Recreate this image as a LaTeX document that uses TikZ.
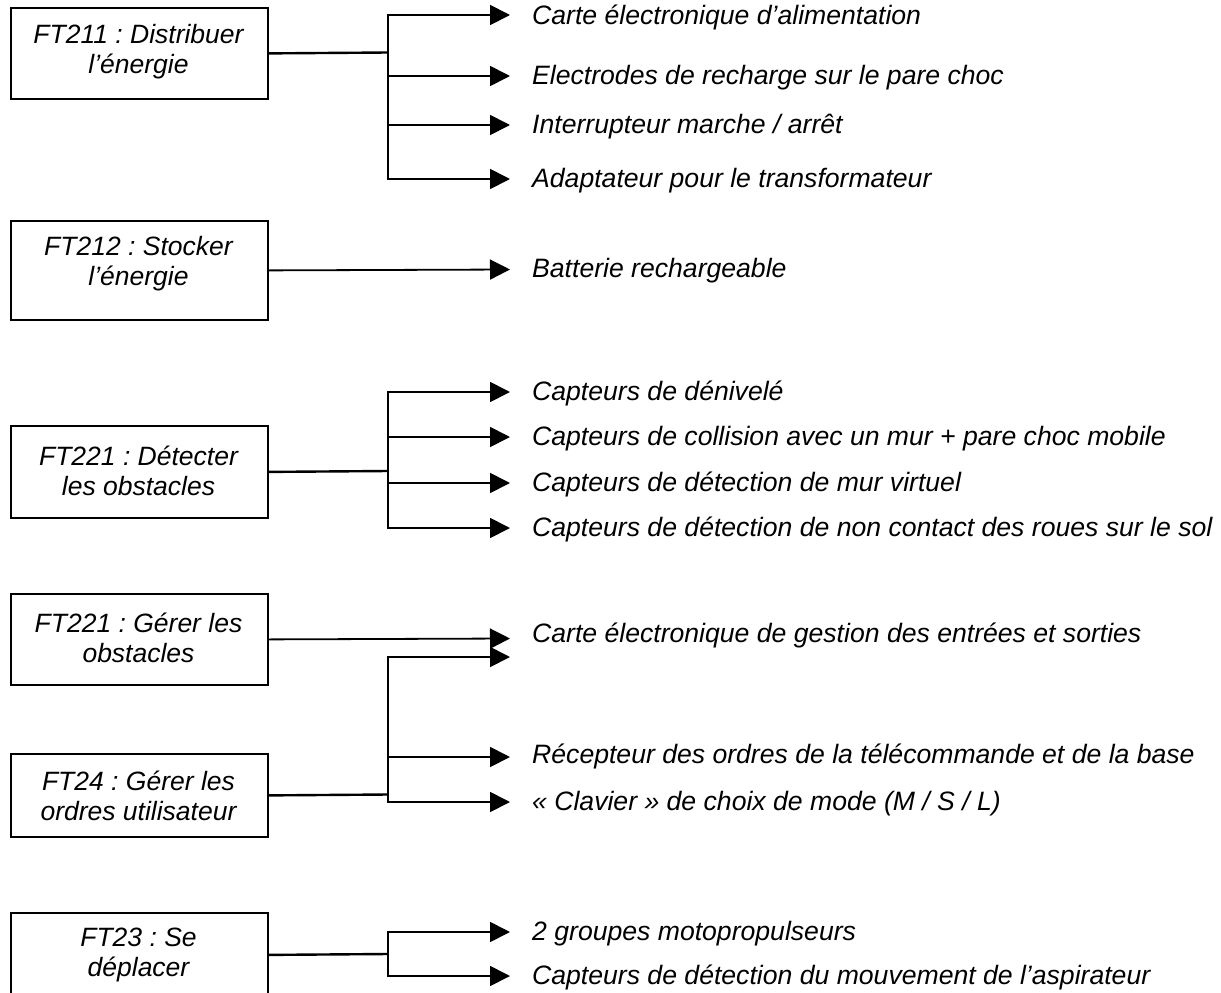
\documentclass[tikz,border=0pt]{standalone}
\usepackage{fontspec}
\setmainfont{Liberation Sans}
\usetikzlibrary{arrows.meta}
\frenchspacing
\begin{document}
\begin{tikzpicture}[x=1pt,y=-1pt,
  box/.style={draw=black, line width=1.8pt, minimum width=257pt, inner sep=0pt, anchor=north west},
  boxtext/.style={align=center, font=\fontsize{26.5}{30}\selectfont\itshape, inner sep=0pt},
  lab/.style={anchor=base west, font=\fontsize{26.6}{30}\selectfont\itshape, inner sep=0pt},
  trunk/.style={line width=2.4pt},
  arr/.style={line width=1.8pt, -{Triangle[length=20pt,width=20pt]}}]
\useasboundingbox (0,0) rectangle (1221,993);
\clip (0,0) rectangle (1221,993);
\fill[white] (0,0) rectangle (1221,993);

% boxes
\node[box, minimum height=91pt] (b1) at (10,7) {};
\node[box, minimum height=99pt] (b2) at (10,220) {};
\node[box, minimum height=92pt] (b3) at (10,425) {};
\node[box, minimum height=91pt] (b4) at (10,593) {};
\node[box, minimum height=83pt] (b5) at (10,753) {};
\node[box, minimum height=84pt] (b6) at (10,912) {};

% box texts
\node[boxtext] (t1) at (138.5,52) {FT211 : Distribuer\\l’énergie};
\node[boxtext] (t2) at (138.5,264) {FT212 : Stocker\\l’énergie};
\node[boxtext] (t3) at (138.5,471) {FT221 : Détecter\\les obstacles};
\node[boxtext] (t4) at (138.5,638) {FT221 : Gérer les\\obstacles};
\node[boxtext] (t5) at (138.5,796) {FT24 : Gérer les\\ordres utilisateur};
\node[boxtext] (t6) at (138.5,955) {FT23 : Se\\déplacer};

% junctions (level with box centres)
\coordinate (j1) at (388,52.5);
\coordinate (j3) at (388,471);
\coordinate (j5) at (388,794.5);
\coordinate (j6) at (388,954);

% arrow tips
\coordinate (a1) at (510,15);
\coordinate (a2) at (510,76);
\coordinate (a3) at (510,125);
\coordinate (a4) at (510,179);
\coordinate (a5) at (510,269.5);
\coordinate (a6) at (510,392);
\coordinate (a7) at (510,437);
\coordinate (a8) at (510,483);
\coordinate (a9) at (510,528);
\coordinate (a10) at (510,638.5);
\coordinate (a11) at (510,657);
\coordinate (a12) at (510,757);
\coordinate (a13) at (510,802);
\coordinate (a14) at (510,932);
\coordinate (a15) at (510,976);

% labels
\node[lab] (l1) at (532,24) {Carte électronique d’alimentation};
\node[lab] (l2) at (532,84) {Electrodes de recharge sur le pare choc};
\node[lab] (l3) at (532,133) {Interrupteur marche / arrêt};
\node[lab] (l4) at (532,187) {Adaptateur pour le transformateur};
\node[lab] (l5) at (532,277) {Batterie rechargeable};
\node[lab] (l6) at (532,400) {Capteurs de dénivelé};
\node[lab] (l7) at (532,445) {Capteurs de collision avec un mur + pare choc mobile};
\node[lab] (l8) at (532,491) {Capteurs de détection de mur virtuel};
\node[lab] (l9) at (532,536) {Capteurs de détection de non contact des roues sur le sol};
\node[lab] (l10) at (532,642) {Carte électronique de gestion des entrées et sorties};
\node[lab] (l12) at (532,763) {Récepteur des ordres de la télécommande et de la base};
\node[lab] (l13) at (532,810) {« Clavier » de choix de mode (M / S / L)};
\node[lab] (l14) at (532,940) {2 groupes motopropulseurs};
\node[lab] (l15) at (532,984) {Capteurs de détection du mouvement de l’aspirateur};

% trunks
\draw[trunk] (b1.east) -- (j1);
\draw[trunk] (b3.east) -- (j3);
\draw[trunk] (b5.east) -- (j5);
\draw[trunk] (b6.east) -- (j6);

% branches
\foreach \a in {a1,a2,a3,a4} \draw[arr] (j1) |- (\a);
\draw[arr] (b2.east) -- (a5);
\foreach \a in {a6,a7,a8,a9} \draw[arr] (j3) |- (\a);
\draw[arr] (b4.east) -- (a10);
\foreach \a in {a11,a12,a13} \draw[arr] (j5) |- (\a);
\foreach \a in {a14,a15} \draw[arr] (j6) |- (\a);
\end{tikzpicture}
\end{document}
